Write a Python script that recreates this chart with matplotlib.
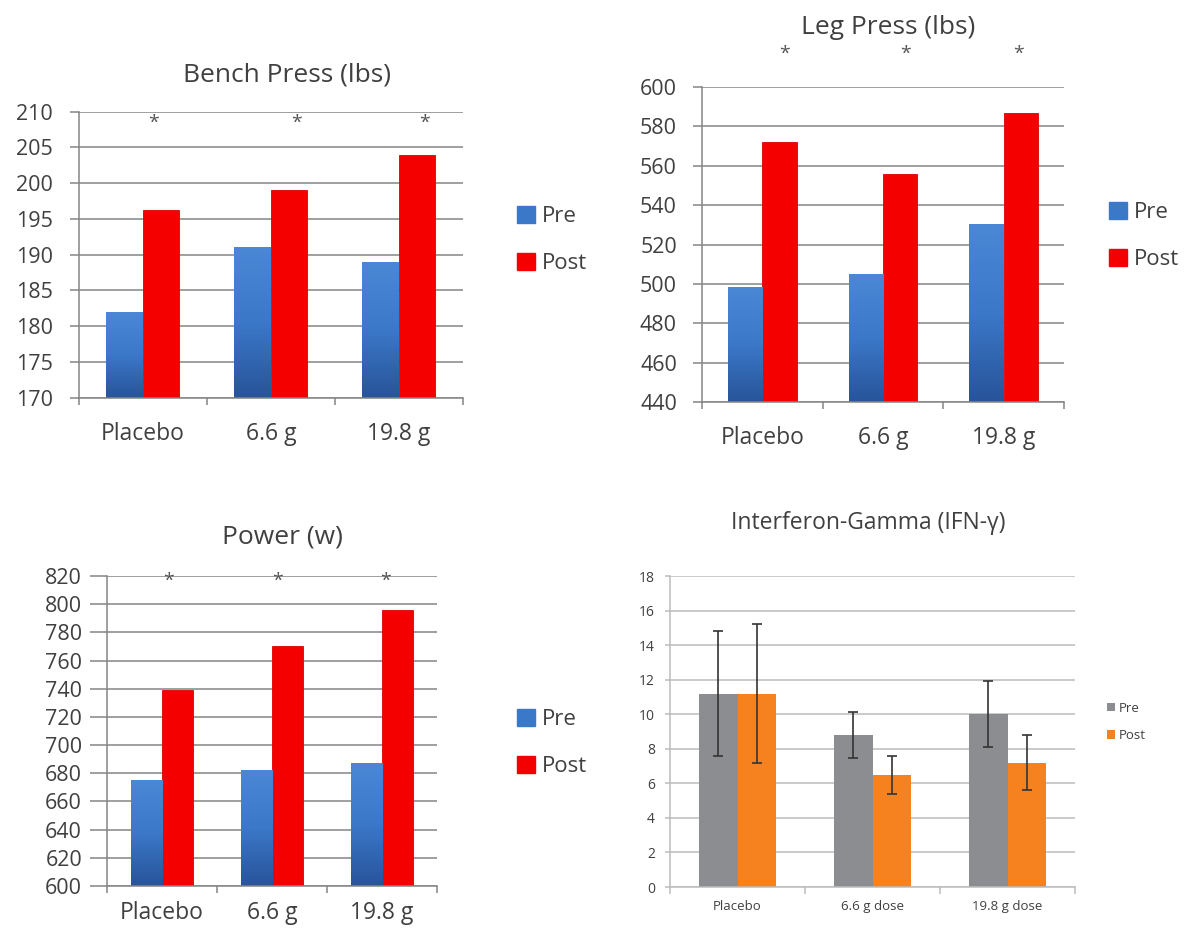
import numpy as np
import matplotlib
matplotlib.use('Agg')
import matplotlib.pyplot as plt
from matplotlib.colors import LinearSegmentedColormap
from matplotlib.patches import Patch

plt.rcParams['font.family'] = ['Open Sans', 'DejaVu Sans']

groups = ['Placebo', '6.6 g', '19.8 g']
ifn_groups = ['Placebo', '6.6 g dose', '19.8 g dose']

bench_pre = [182, 191, 189]
bench_post = [196.2, 199, 204]
leg_pre = [498, 505, 530]
leg_post = [572, 556, 587]
power_pre = [675, 682, 687]
power_post = [739, 770, 796]
ifn_pre = [11.2, 8.8, 10.0]
ifn_post = [11.2, 6.5, 7.2]
ifn_pre_err = [3.6, 1.35, 1.9]
ifn_post_err = [4.0, 1.1, 1.6]

TXT = '#404040'
GRID = '#858585'
BLUE = '#3b78c8'
BLUE_CMAP = LinearSegmentedColormap.from_list('pre', ['#28549a', '#3b78c8', '#4a88d6'])
RED = '#f50000'
PX = 72 / 100  # points per pixel at dpi 100


def style_axes(ax, ymin, ymax, step, fs, xfs, grid, tick_len, tick_pad, xpad):
    ax.set_xlim(-0.5, 2.5)
    ax.set_ylim(ymin, ymax)
    ax.set_yticks(np.arange(ymin, ymax + step / 2, step))
    ax.yaxis.grid(True, color=grid, lw=1.1)
    ax.set_axisbelow(True)
    for s in ['top', 'right']:
        ax.spines[s].set_visible(False)
    for s in ['left', 'bottom']:
        ax.spines[s].set_color(grid)
        ax.spines[s].set_linewidth(1.1)
    ax.set_xticks([0, 1, 2])
    ax.set_xticks([-0.5, 0.5, 1.5, 2.5], minor=True)
    ax.tick_params(axis='x', which='major', length=0, pad=xpad * PX, labelsize=xfs, colors=TXT)
    ax.tick_params(axis='x', which='minor', length=7 * PX, width=1.1, color=grid, direction='out')
    ax.tick_params(axis='y', length=tick_len * PX, width=1.1, color=grid, labelsize=fs,
                   colors=TXT, pad=tick_pad * PX)


def gradient_bars(ax, bars, ymin):
    for b in bars:
        x, y = b.get_xy()
        w, h = b.get_width(), b.get_height()
        grad = np.linspace(0, 1, 100).reshape(-1, 1)
        ax.imshow(grad, extent=[x, x + w, ymin, y + h], cmap=BLUE_CMAP,
                  aspect='auto', origin='lower', zorder=2)
        b.set_visible(False)


def strength_panel(rect, title, title_xy, pre, post, ymin, ymax, step,
                   star_y, star_x, tick_len, tick_pad, legend_xy, xpad=24):
    ax = fig.add_axes(rect)
    x = np.arange(3)
    w = 0.285
    bars = ax.bar(x - w / 2, pre, w, color=BLUE, zorder=2)
    ax.bar(x + w / 2, post, w, color=RED, edgecolor='#dd0000', lw=0.6, zorder=2)
    style_axes(ax, ymin, ymax, step, 15.5, 16.5, GRID, tick_len, tick_pad, xpad)
    gradient_bars(ax, bars, ymin)
    ax.set_xlim(-0.5, 2.5)
    ax.set_ylim(ymin, ymax)
    ax.set_xticklabels(groups)
    for sx in star_x:
        ax.text(sx, star_y, '*', ha='center', va='center', fontsize=14,
                color='#555555', clip_on=False)
    fig.text(title_xy[0] / 1184, 1 - title_xy[1] / 930, title, ha='center',
             va='center', fontsize=19, color=TXT)
    handles = [Patch(color=BLUE, label='Pre'), Patch(color=RED, label='Post')]
    ax.legend(handles=handles, loc='center left',
              bbox_to_anchor=(legend_xy[0] / 1184, 1 - legend_xy[1] / 930),
              bbox_transform=fig.transFigure, frameon=False, fontsize=16,
              handlelength=0.8, handleheight=0.8, handletextpad=0.3,
              labelspacing=1.15, borderpad=0, borderaxespad=0, labelcolor=TXT)
    return ax


fig = plt.figure(figsize=(11.84, 9.3), dpi=100)

strength_panel([0.0667, 0.5724, 0.3243, 0.3075], 'Bench Press (lbs)', (287, 75),
               bench_pre, bench_post, 170, 210, 5, 208.5, [0.08, 1.2, 2.2], 9, 17,
               (517, 240))
strength_panel([0.5929, 0.5677, 0.3057, 0.3387], 'Leg Press (lbs)', (888, 27),
               leg_pre, leg_post, 440, 600, 20, 617, [0.18, 1.19, 2.12], 9, 16,
               (1109, 236))
strength_panel([0.0904, 0.0473, 0.2787, 0.3333], 'Power (w)', (282, 537),
               power_pre, power_post, 600, 820, 20, 816.5, [0.06, 1.05, 2.03], 17, 8,
               (517, 743), xpad=15)

ax4 = fig.add_axes([0.5659, 0.0462, 0.3421, 0.3344])
x = np.arange(3)
w = 0.285
ax4.bar(x - w / 2, ifn_pre, w, color='#8b8d90', zorder=2, label='Pre')
ax4.bar(x + w / 2, ifn_post, w, color='#f5821f', zorder=2, label='Post')
ax4.errorbar(x - w / 2, ifn_pre, yerr=ifn_pre_err, fmt='none', ecolor='#333333',
             elinewidth=1.2, capsize=3.5, capthick=1.2, zorder=3)
ax4.errorbar(x + w / 2, ifn_post, yerr=ifn_post_err, fmt='none', ecolor='#333333',
             elinewidth=1.2, capsize=3.5, capthick=1.2, zorder=3)
style_axes(ax4, 0, 18, 2, 10, 9.5, '#bcbcbc', 5, 10, 13)
ax4.set_xticklabels(ifn_groups)
fig.text(868 / 1184, 1 - 523 / 930, 'Interferon-Gamma (IFN-γ)', ha='center',
         va='center', fontsize=16.5, color=TXT)
ax4.legend(loc='center left', bbox_to_anchor=(1107 / 1184, 1 - 722 / 930),
           bbox_transform=fig.transFigure, frameon=False, fontsize=9.5,
           handlelength=0.6, handleheight=0.6, handletextpad=0.3, labelspacing=1.1,
           borderpad=0, borderaxespad=0, labelcolor=TXT)

fig.savefig('out.png', dpi=100)
